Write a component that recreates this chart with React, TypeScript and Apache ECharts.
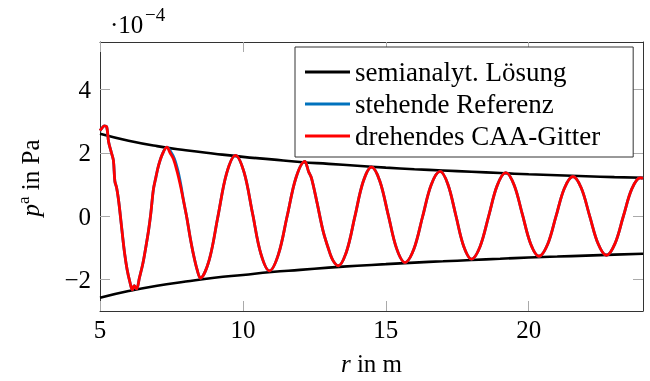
import { useEffect, useRef } from "react";
import * as echarts from "echarts";

// semi-analytic envelope (values in 1e-4 Pa)
const envR = [5, 6, 7, 8, 9, 10, 11, 12, 13, 14, 15, 16, 17, 18, 19, 20, 21, 22, 23, 24];
const envUpper = [2.6, 2.38, 2.21, 2.08, 1.97, 1.87, 1.79, 1.71, 1.65, 1.59, 1.53, 1.48, 1.44, 1.4, 1.36, 1.32, 1.29, 1.26, 1.23, 1.21];
const envLower = [-2.58, -2.37, -2.2, -2.07, -1.95, -1.86, -1.77, -1.7, -1.63, -1.57, -1.52, -1.47, -1.43, -1.39, -1.35, -1.31, -1.28, -1.25, -1.22, -1.19];

// rotating CAA grid
const rotR = [5.0, 5.07, 5.15, 5.23, 5.3, 5.4, 5.47, 5.52, 5.58, 5.65, 5.75, 5.85, 5.95, 6.05, 6.13, 6.2, 6.28, 6.38, 6.5, 6.6, 6.7, 6.78, 6.87, 6.95, 7.05, 7.18, 7.34, 7.45, 7.57, 7.7, 7.81, 7.93, 8.04, 8.15, 8.27, 8.4, 8.51,
  8.82, 9.125, 9.43, 9.74,
  10.04, 10.335, 10.63, 10.93,
  11.24, 11.55, 11.86, 12.17,
  12.24, 12.3, 12.4, 12.6, 12.8, 13.0, 13.15, 13.34,
  13.63, 13.92, 14.21, 14.5,
  14.79, 15.085, 15.38, 15.67,
  15.98, 16.285, 16.59, 16.9,
  17.175, 17.45, 17.725, 18.0,
  18.3, 18.6, 18.9, 19.2,
  19.49, 19.78, 20.07, 20.36,
  20.66, 20.955, 21.25, 21.55,
  21.84, 22.135, 22.43, 22.72,
  23.015, 23.31, 23.605, 23.9, 24.0];
const rotP = [2.7, 2.78, 2.85, 2.83, 2.35, 2.0, 1.75, 1.1, 0.9, 0.5, -0.3, -1.1, -1.7, -2.1, -2.33, -2.2, -2.3, -1.95, -1.5, -1.0, -0.45, 0.1, 0.85, 1.2, 1.6, 1.95, 2.18, 2.0, 1.8, 1.4, 0.98, 0.45, -0.06, -0.65, -1.21, -1.7, -1.96,
  -1.39, -0.02, 1.35, 1.92,
  1.385, 0.095, -1.195, -1.73,
  -1.22, 0, 1.22, 1.73,
  1.58, 1.4, 1.2, 0.4, -0.45, -1.05, -1.4, -1.57,
  -1.11, -0.01, 1.09, 1.55,
  1.11, 0.04, -1.03, -1.47,
  -1.05, -0.03, 0.99, 1.41,
  1.0, 0.025, -0.955, -1.36,
  -0.96, 0, 0.97, 1.37,
  0.98, 0.05, -0.88, -1.27,
  -0.9, -0.01, 0.88, 1.25,
  0.885, 0, -0.875, -1.24,
  -0.88, -0.015, 0.85, 1.21, 1.19];

// standing reference: differs visibly only just after the first peak
const refSegR = [7.34, 7.47, 7.6, 7.73, 7.83];
const refSegP = [2.18, 2.04, 1.82, 1.42, 0.98];

const xTicks = [5, 10, 15, 20];
const yTicks = [-2, 0, 2, 4];

const FONT = "Liberation Serif";

export default function App() {
  const ref = useRef<HTMLDivElement>(null);
  useEffect(() => {
    if (!ref.current) return;
    const chart = echarts.init(ref.current, undefined, { renderer: "svg" });
    const rot = rotR.map((r, i) => [r, rotP[i]]);
    const seg = refSegR.map((r, i) => [r, refSegP[i]]);
    const refData = [
      ...rot.filter((p) => p[0] < refSegR[0]),
      ...seg,
      ...rot.filter((p) => p[0] > refSegR[refSegR.length - 1]),
    ];
    const fmt = (v: number) => (v < 0 ? "\u2212" + Math.abs(v) : String(v));
    const tickStyle = { show: true, inside: true, length: 10, lineStyle: { color: "#aaa", width: 1 } };
    const lineAxis = { show: true, onZero: false, lineStyle: { color: "#333", width: 1 } };
    const labelStyle = { fontFamily: FONT, fontSize: 25, color: "#000" };
    chart.setOption({
      animation: false,
      grid: { left: 100, right: 7, top: 42, bottom: 68 },
      xAxis: [
        {
          type: "value", min: 5, max: 24, position: "bottom",
          axisLine: lineAxis,
          axisTick: { ...tickStyle, customValues: xTicks },
          axisLabel: { ...labelStyle, margin: 6, customValues: xTicks, formatter: fmt },
          splitLine: { show: false },
          name: "{i|r} in m", nameLocation: "middle", nameGap: 40,
          nameTextStyle: { ...labelStyle, rich: { i: { ...labelStyle, fontStyle: "italic" } } },
        },
        {
          type: "value", min: 5, max: 24, position: "top",
          axisLine: lineAxis,
          axisTick: { ...tickStyle, customValues: xTicks },
          axisLabel: { show: false },
          splitLine: { show: false },
        },
      ],
      yAxis: [
        {
          type: "value", min: -3, max: 5.5, position: "left",
          axisLine: lineAxis,
          axisTick: { ...tickStyle, customValues: yTicks },
          axisLabel: { ...labelStyle, margin: 9, customValues: yTicks, formatter: fmt },
          splitLine: { show: false },
        },
        {
          type: "value", min: -3, max: 5.5, position: "right",
          axisLine: lineAxis,
          axisTick: { ...tickStyle, customValues: yTicks },
          axisLabel: { show: false },
          splitLine: { show: false },
        },
      ],
      legend: {
        orient: "vertical", left: 295, top: 47,
        padding: [9, 33, 5, 10], itemGap: 0, itemWidth: 45, itemHeight: 3, icon: "rect",
        backgroundColor: "#fff", borderColor: "#333", borderWidth: 1,
        textStyle: { fontFamily: FONT, fontSize: 27, color: "#000", lineHeight: 32 },
        data: ["semianalyt. Lösung", "stehende Referenz", "drehendes CAA-Gitter"],
      },
      graphic: [
        { type: "text", left: 110, top: 12, style: { text: "·10", font: `25px "${FONT}"`, fill: "#000" } },
        { type: "text", left: 145, top: 5, style: { text: "\u22124", font: `19px "${FONT}"`, fill: "#000" } },
        {
          type: "text", x: 30, y: 178, rotation: Math.PI / 2,
          style: {
            text: "{i|p}{s|a} in Pa", fill: "#000", font: `25px "${FONT}"`, align: "center", verticalAlign: "middle",
            rich: {
              i: { fontFamily: FONT, fontSize: 25, fontStyle: "italic" },
              s: { fontFamily: FONT, fontSize: 17, padding: [0, 0, 14, 0] },
            },
          },
        },
      ],
      series: [
        {
          name: "semianalyt. Lösung", type: "line", data: envR.map((r, i) => [r, envUpper[i]]),
          smooth: true, showSymbol: false, color: "#000", lineStyle: { color: "#000", width: 2.6 },
        },
        {
          name: "semianalyt. Lösung", type: "line", data: envR.map((r, i) => [r, envLower[i]]),
          smooth: true, showSymbol: false, color: "#000", lineStyle: { color: "#000", width: 2.6 },
        },
        {
          name: "stehende Referenz", type: "line", data: refData,
          smooth: 0.35, showSymbol: false, color: "#0072bd", lineStyle: { color: "#0072bd", width: 2.8 },
        },
        {
          name: "drehendes CAA-Gitter", type: "line", data: rot,
          smooth: 0.35, showSymbol: false, color: "#ff0000", lineStyle: { color: "#ff0000", width: 2.8 },
        },
      ],
    });
    return () => chart.dispose();
  }, []);
  return <div ref={ref} style={{ position: "fixed", left: 0, top: 0, width: 650, height: 381 }} />;
}
